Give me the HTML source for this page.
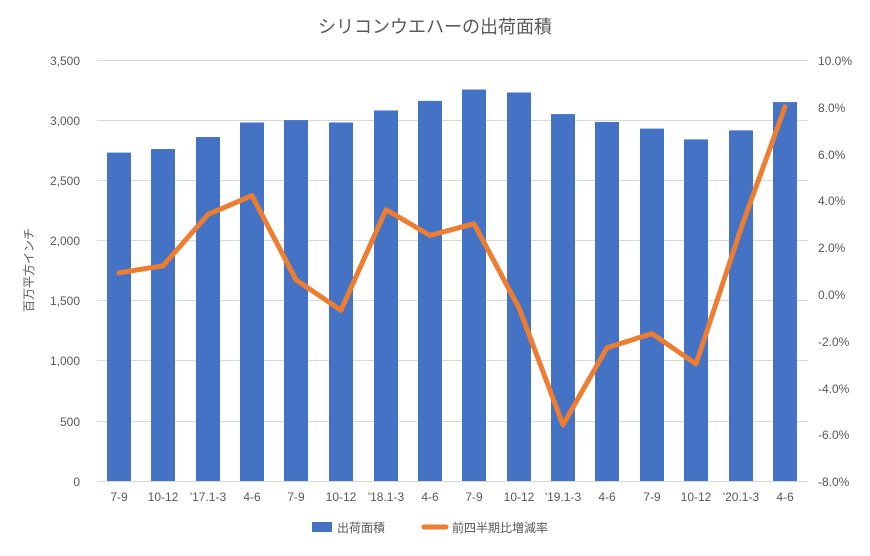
<!DOCTYPE html>
<html><head><meta charset="utf-8"><style>
body{margin:0;background:#fff}
text{font-family:"Liberation Sans","Noto Sans CJK JP",sans-serif;fill:#595959;font-size:12px}
</style></head><body>
<svg width="870" height="551" xmlns="http://www.w3.org/2000/svg">
<rect width="870" height="551" fill="#fff"/>
<text x="435" y="33" text-anchor="middle" style="font-size:18px">シリコンウエハーの出荷面積</text>
<g stroke="#d9d9d9" stroke-width="1">
<line x1="97" x2="808" y1="60.5" y2="60.5"/><line x1="97" x2="808" y1="120.5" y2="120.5"/>
<line x1="97" x2="808" y1="180.5" y2="180.5"/><line x1="97" x2="808" y1="240.5" y2="240.5"/>
<line x1="97" x2="808" y1="300.5" y2="300.5"/><line x1="97" x2="808" y1="360.5" y2="360.5"/>
<line x1="97" x2="808" y1="421.5" y2="421.5"/><line x1="97" x2="808" y1="481.5" y2="481.5"/>
</g>
<g text-anchor="end">
<text x="80" y="65">3,500</text><text x="80" y="125">3,000</text><text x="80" y="185">2,500</text>
<text x="80" y="245">2,000</text><text x="80" y="305">1,500</text><text x="80" y="365">1,000</text>
<text x="80" y="426">500</text><text x="80" y="486">0</text>
</g>
<g text-anchor="start">
<text x="818" y="65">10.0%</text><text x="818" y="112">8.0%</text><text x="818" y="159">6.0%</text>
<text x="818" y="205">4.0%</text><text x="818" y="252">2.0%</text><text x="818" y="299">0.0%</text>
<text x="818" y="346">-2.0%</text><text x="818" y="393">-4.0%</text><text x="818" y="439">-6.0%</text>
<text x="818" y="486">-8.0%</text>
</g>
<text transform="translate(33,270) rotate(-90)" text-anchor="middle">百万平方インチ</text>
<g fill="#4472c4">
<rect x="107" y="152.6" width="24" height="328.4"/>
<rect x="151" y="149" width="24" height="332"/>
<rect x="196" y="137" width="24" height="344"/>
<rect x="240" y="122.5" width="24" height="358.5"/>
<rect x="284" y="120.1" width="24" height="360.9"/>
<rect x="329" y="122.5" width="24" height="358.5"/>
<rect x="374" y="110.5" width="24" height="370.5"/>
<rect x="418" y="100.9" width="24" height="380.1"/>
<rect x="462" y="89.5" width="24" height="391.5"/>
<rect x="507" y="92.5" width="24" height="388.5"/>
<rect x="551" y="114.1" width="24" height="366.9"/>
<rect x="595" y="122" width="24" height="359"/>
<rect x="640" y="128.6" width="24" height="352.4"/>
<rect x="684" y="139.4" width="24" height="341.6"/>
<rect x="729" y="130.4" width="24" height="350.6"/>
<rect x="773" y="102.1" width="24" height="378.9"/>
</g>
<polyline fill="none" stroke="#ed7d31" stroke-width="5" stroke-linejoin="round" stroke-linecap="round"
points="119,272.8 163,265.8 208,214.4 252,195.6 296,279.8 341,310.3 386,209.7 430,235.4 474,223.7 519,307.9 563,424.9 607,347.7 652,333.6 696,364 741,228.4 785,106.8"/>
<g text-anchor="middle">
<text x="119" y="501">7-9</text><text x="163" y="501">10-12</text><text x="208" y="501">'17.1-3</text>
<text x="252" y="501">4-6</text><text x="296" y="501">7-9</text><text x="341" y="501">10-12</text>
<text x="386" y="501">'18.1-3</text><text x="430" y="501">4-6</text><text x="474" y="501">7-9</text>
<text x="519" y="501">10-12</text><text x="563" y="501">'19.1-3</text><text x="607" y="501">4-6</text>
<text x="652" y="501">7-9</text><text x="696" y="501">10-12</text><text x="741" y="501">'20.1-3</text>
<text x="785" y="501">4-6</text>
</g>
<rect x="312" y="522" width="20" height="10" fill="#4472c4"/>
<text x="337" y="532">出荷面積</text>
<line x1="424" x2="446" y1="527" y2="527" stroke="#ed7d31" stroke-width="5" stroke-linecap="round"/>
<text x="452" y="532">前四半期比増減率</text>
</svg>
</body></html>
